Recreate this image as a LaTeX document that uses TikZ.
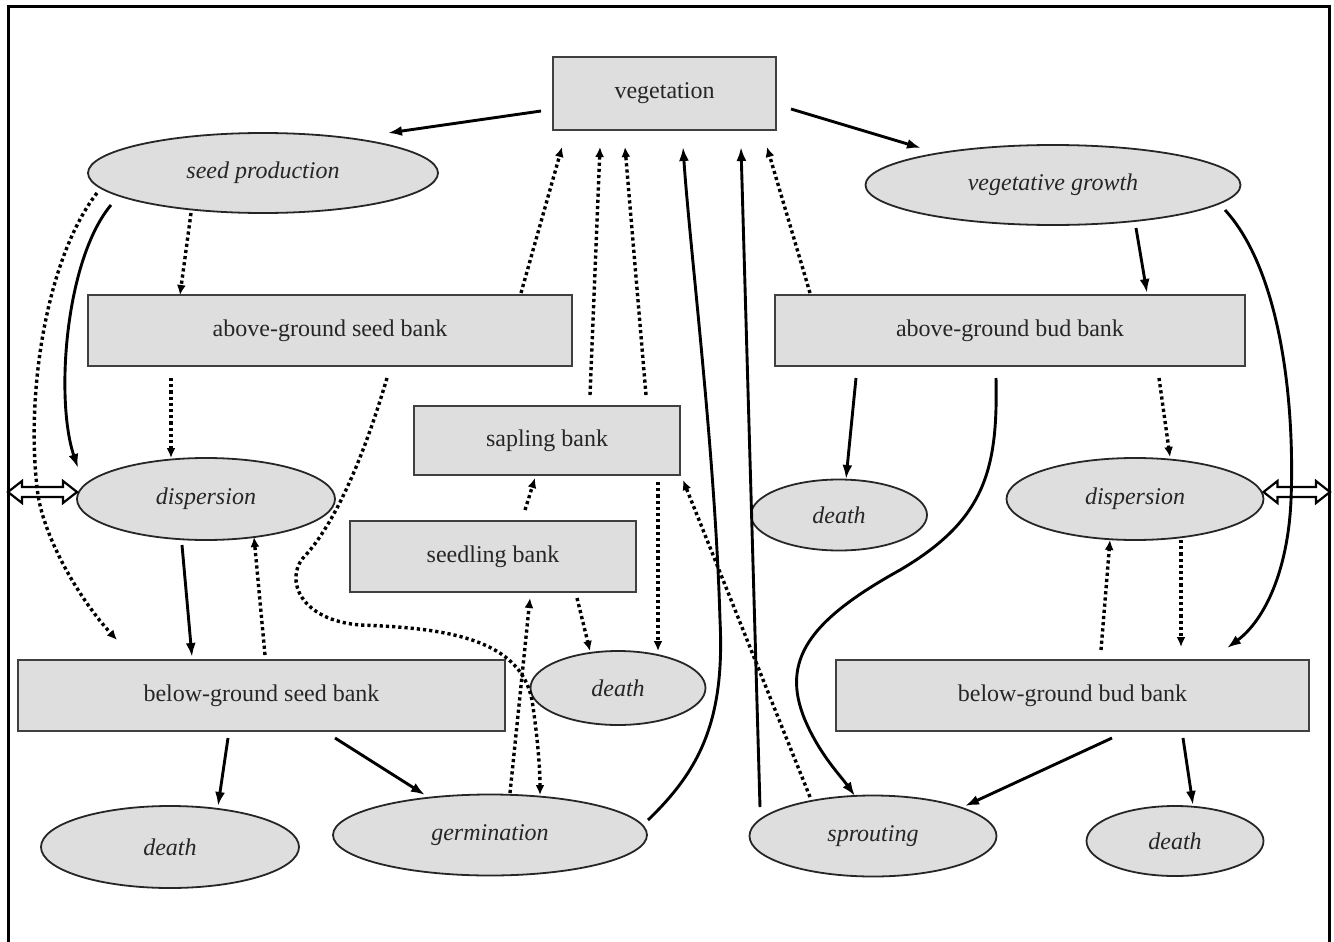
\documentclass[tikz,border=0pt]{standalone}
\usepackage{fontspec}
\setmainfont{Liberation Serif}
\usetikzlibrary{shapes.geometric,arrows.meta,calc}
\begin{document}
\begin{tikzpicture}[x=0.5pt,y=-0.5pt,
  box/.style={draw=black!75,line width=1.1pt,fill=black!13,rectangle,inner sep=0pt,text=black!85,font=\fontsize{12}{14}\selectfont},
  oval/.style={draw=black!85,line width=0.9pt,fill=black!13,ellipse,inner sep=0pt,text=black!85,font=\fontsize{12}{14}\selectfont\itshape},
  sol/.style={line width=1.45pt,-{Latex[length=7pt,width=5pt]}},
  dot/.style={line width=1.7pt,dash pattern=on 1.6pt off 1.5pt,-{Latex[length=5pt,width=4.5pt]}},
  dblarrow/.style={line width=1.1pt,draw=black,fill=white,line join=miter},
]
\useasboundingbox (0,0) rectangle (1334,942);
% frame
\draw[line width=1.5pt] (8,942) -- (8,6) -- (1329,6) -- (1329,942);

% nodes
\node[box,minimum width=111.5pt,minimum height=36.5pt] (veg) at (664.5,93.5) {vegetation};
\node[oval,minimum width=175pt,minimum height=40pt] (sp) at (263,173) {seed production};
\node[oval,minimum width=187.5pt,minimum height=40pt] (vg) at (1053,185) {vegetative growth};
\node[box,minimum width=242pt,minimum height=35.5pt] (agsb) at (330,330.5) {above-ground seed bank};
\node[box,minimum width=235pt,minimum height=35.5pt] (agbb) at (1010,330.5) {above-ground bud bank};
\node[box,minimum width=133pt,minimum height=34.5pt] (sap) at (547,440.5) {sapling bank};
\node[box,minimum width=143pt,minimum height=35.5pt] (sdl) at (493,556.5) {seedling bank};
\node[oval,minimum width=129pt,minimum height=41pt] (dl) at (206,499) {dispersion};
\node[oval,minimum width=128.5pt,minimum height=41pt] (dr) at (1135,499) {dispersion};
\node[oval,minimum width=88pt,minimum height=35.5pt] (dA) at (839,515) {death};
\node[oval,minimum width=87.5pt,minimum height=37pt] (dB) at (618,688) {death};
\node[box,minimum width=243.5pt,minimum height=35.5pt] (bgsb) at (261.5,695.5) {below-ground seed bank};
\node[box,minimum width=236.5pt,minimum height=35.5pt] (bgbb) at (1072.5,695.5) {below-ground bud bank};
\node[oval,minimum width=129pt,minimum height=41pt] (dC) at (170,847) {death};
\node[oval,minimum width=157pt,minimum height=40.5pt] (germ) at (490,835) {germination};
\node[oval,minimum width=123.5pt,minimum height=40.5pt] (spr) at (873,836) {sprouting};
\node[oval,minimum width=88.5pt,minimum height=35pt] (dD) at (1175,841) {death};

% open double arrows at the edges
\coordinate (eL) at (8,492);
\coordinate (eR) at (1330,492);
\draw[dblarrow] (eL) -- ++(14,-11) -- ++(0,6) -- ++(41,0) -- ++(0,-6) -- ++(14,11)
  -- ++(-14,11) -- ++(0,-6) -- ++(-41,0) -- ++(0,6) -- cycle;
\draw[dblarrow] (eR) -- ++(-14,-11) -- ++(0,6) -- ++(-38.5,0) -- ++(0,-6) -- ++(-14,11)
  -- ++(14,11) -- ++(0,-6) -- ++(38.5,0) -- ++(0,6) -- cycle;

% solid connectors
\draw[sol] ($(veg)+(-123.5,17.5)$) -- ($(sp)+(125,-40)$);
\draw[sol] ($(veg)+(126.5,15.5)$) -- ($(vg)+(-132,-37)$);
\draw[sol] ($(sp)+(-152,32)$) .. controls (65,260) and (55,400) .. ($(dl)+(-128,-31)$);
\draw[sol] ($(dl)+(-24,46)$) -- ($(bgsb)+(-69.5,-38.5)$);
\draw[sol] ($(germ)+(158,-15)$) .. controls (700,770) and (725,720) .. (720,620)
  .. controls (715,450) and (690,250) .. ($(veg)+(18.5,53.5)$);
\draw[sol] ($(spr)+(-113,-29)$) -- ($(veg)+(76.5,53.5)$);
\draw[sol] ($(vg)+(83,43)$) -- ($(agbb)+(137,-37.5)$);
\draw[sol] ($(vg)+(172,25)$) .. controls (1280,270) and (1295,400) .. (1291,500)
  .. controls (1288,570) and (1265,620) .. ($(bgbb)+(154.5,-47.5)$);
\draw[sol] ($(agbb)+(-154,47.5)$) -- ($(dA)+(7,-36)$);
\draw[sol] ($(agbb)+(-14,47.5)$) .. controls (998,470) and (985,520) .. (900,570)
  .. controls (810,620) and (780,660) .. (805,720)
  .. controls (820,755) and (840,775) .. ($(spr)+(-18,-40)$);
\draw[sol] ($(bgbb)+(39.5,42.5)$) -- ($(spr)+(92,-30)$);
\draw[sol] ($(bgbb)+(110.5,42.5)$) -- ($(dD)+(18,-36)$);
\draw[sol] ($(bgsb)+(-33.5,42.5)$) -- ($(dC)+(48,-41)$);
\draw[sol] ($(bgsb)+(73.5,42.5)$) -- ($(germ)+(-65,-40)$);

% dotted connectors
\draw[dot] ($(sp)+(-72,40)$) -- ($(agsb)+(-150,-35.5)$);
\draw[dot] ($(sp)+(-166,20)$) .. controls (45,260) and (25,400) .. (38,495)
  .. controls (45,540) and (80,600) .. ($(bgsb)+(-144.5,-55.5)$);
\draw[dot] ($(agsb)+(-159,47.5)$) -- ($(dl)+(-35,-41)$);
\draw[dot] ($(agsb)+(191,-37.5)$) -- ($(veg)+(-102.5,53.5)$);
\draw[dot] ($(agsb)+(57,47.5)$) .. controls (360,470) and (330,530) .. (303,558)
  .. controls (285,580) and (300,620) .. (360,625)
  .. controls (450,628) and (520,640) .. (532,700)
  .. controls (538,740) and (540,770) .. ($(germ)+(50,-40)$);
\draw[dot] ($(bgsb)+(3.5,-40.5)$) -- ($(dl)+(48,38)$);
\draw[dot] ($(sap)+(43,-45.5)$) -- ($(veg)+(-64.5,53.5)$);
\draw[dot] ($(sap)+(99,-45.5)$) -- ($(veg)+(-39.5,53.5)$);
\draw[dot] ($(sdl)+(32,-46.5)$) -- ($(sap)+(-12,37.5)$);
\draw[dot] ($(germ)+(20,-42)$) -- ($(sdl)+(37,41.5)$);
\draw[dot] ($(sdl)+(84,41.5)$) -- ($(dB)+(-28,-37)$);
\draw[dot] ($(sap)+(111,41.5)$) -- ($(dB)+(40,-37)$);
\draw[dot] ($(spr)+(-63,-39)$) -- ($(sap)+(136,39.5)$);
\draw[dot] ($(agbb)+(-200,-37.5)$) -- ($(veg)+(102.5,53.5)$);
\draw[dot] ($(agbb)+(149,47.5)$) -- ($(dr)+(35,-42)$);
\draw[dot] ($(dr)+(46,41)$) -- ($(bgbb)+(108.5,-48.5)$);
\draw[dot] ($(bgbb)+(28.5,-45.5)$) -- ($(dr)+(-25,41)$);
\end{tikzpicture}
\end{document}
